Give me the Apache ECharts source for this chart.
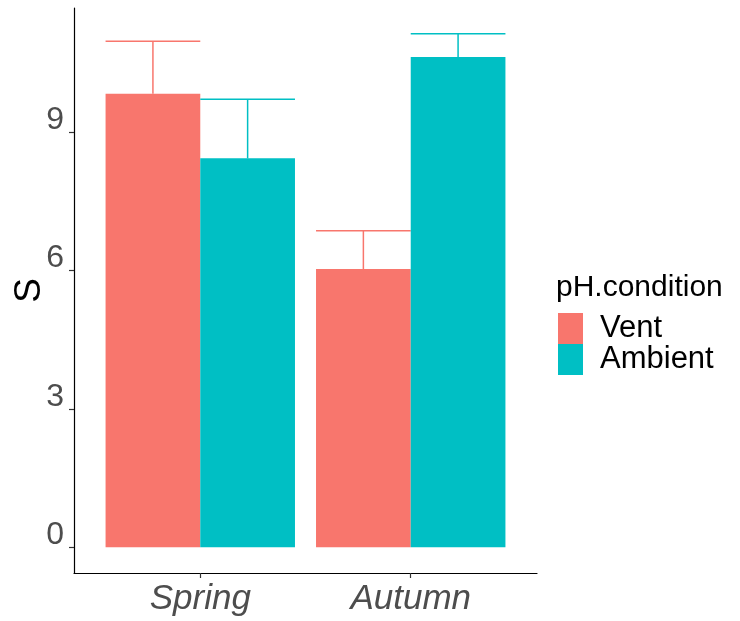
<!DOCTYPE html>
<html>
<head>
<meta charset="utf-8">
<script src="https://cdn.jsdelivr.net/npm/echarts@6/dist/echarts.min.js"></script>
<style>html,body{margin:0;padding:0;background:#fff;}#c{width:740px;height:621px;}</style>
</head>
<body>
<div id="c"></div>
<script>
const categories = ['Spring', 'Autumn'];
const seriesNames = ['Vent', 'Ambient'];
const ventMeans = [9.83, 6.03];
const ventUpper = [10.97, 6.86];
const ambientMeans = [8.43, 10.63];
const ambientUpper = [9.71, 11.13];
const yTicks = [0, 3, 6, 9];

const FONT = '"Liberation Sans", Arial, Helvetica, sans-serif';
const colors = ['#F8766D', '#00BFC4'];
const catPos = categories.map((c, i) => i + 1);

function makeData(means, upper) {
  return catPos.map((p, i) => [p, means[i], upper[i]]);
}

function renderer(offset, color) {
  return function (params, api) {
    const xc = api.value(0) + offset;
    const v = api.value(1);
    const up = api.value(2);
    const half = 0.225;
    const bl = api.coord([xc - half, 0]);
    const tr = api.coord([xc + half, v]);
    const capL = api.coord([xc - half, up]);
    const capR = api.coord([xc + half, up]);
    const mid = api.coord([xc, v]);
    return {
      type: 'group',
      children: [
        { type: 'rect', shape: { x: bl[0], y: tr[1], width: tr[0] - bl[0], height: bl[1] - tr[1] }, style: { fill: color } },
        { type: 'line', shape: { x1: mid[0], y1: mid[1], x2: mid[0], y2: capL[1] }, style: { stroke: color, lineWidth: 1.5 } },
        { type: 'line', shape: { x1: capL[0], y1: capL[1], x2: capR[0], y2: capR[1] }, style: { stroke: color, lineWidth: 1.5 } }
      ]
    };
  };
}

const chart = echarts.init(document.getElementById('c'), null, { renderer: 'canvas' });
chart.setOption({
  backgroundColor: '#fff',
  animation: false,
  title: {
    text: 'pH.condition', left: 551, top: 268,
    textStyle: { fontFamily: FONT, fontSize: 30, fontWeight: 'normal', color: '#000' }
  },
  legend: {
    orient: 'vertical', left: 553, top: 308,
    icon: 'rect', itemWidth: 25, itemHeight: 31, itemGap: 0,
    data: seriesNames,
    textStyle: { fontFamily: FONT, fontSize: 31, color: '#000', lineHeight: 31, padding: [0, 0, 0, 12] }
  },
  grid: { left: 74, right: 203, top: 8, bottom: 48, containLabel: false, outerBoundsMode: 'none' },
  xAxis: {
    type: 'value', min: 0.4, max: 2.6,
    splitLine: { show: false },
    axisLine: { show: true, onZero: false, lineStyle: { color: '#000', width: 1.2 } },
    axisTick: { show: true, customValues: catPos, length: 5, lineStyle: { color: '#333', width: 1.2 } },
    axisLabel: {
      customValues: catPos,
      formatter: v => categories[Math.round(v) - 1] || '',
      fontFamily: FONT, fontSize: 35, fontStyle: 'italic', color: '#4D4D4D', margin: 9
    }
  },
  yAxis: {
    type: 'value', min: -0.56, max: 11.69,
    name: 'S', nameLocation: 'middle', nameGap: 26, nameRotate: 90, nameMoveOverlap: false,
    nameTextStyle: { fontFamily: FONT, fontSize: 37, color: '#000' },
    splitLine: { show: false },
    axisLine: { show: true, onZero: false, lineStyle: { color: '#000', width: 1.2 } },
    axisTick: { show: true, customValues: yTicks, length: 5, lineStyle: { color: '#333', width: 1.2 } },
    axisLabel: { customValues: yTicks, fontFamily: FONT, fontSize: 32, color: '#4D4D4D', margin: 10, verticalAlign: 'bottom', lineHeight: 24 }
  },
  series: [
    { name: seriesNames[0], type: 'custom', itemStyle: { color: colors[0] }, renderItem: renderer(-0.225, colors[0]), data: makeData(ventMeans, ventUpper) },
    { name: seriesNames[1], type: 'custom', itemStyle: { color: colors[1] }, renderItem: renderer(0.225, colors[1]), data: makeData(ambientMeans, ambientUpper) }
  ]
});
</script>
</body>
</html>
